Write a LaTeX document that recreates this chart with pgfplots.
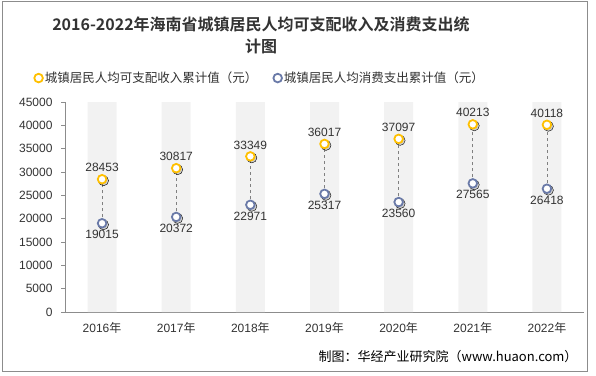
\documentclass[border=0pt]{standalone}
\usepackage{pgfplots}
\pgfplotsset{compat=1.18}
\usepackage{fontspec}
\setmainfont{Liberation Sans}
\newfontfamily\cjk{Noto Sans CJK SC}
\newfontfamily\cjkb{Noto Sans CJK SC Bold}
\definecolor{incc}{HTML}{FFC000}
\definecolor{conc}{HTML}{6A7AA8}
\definecolor{bandc}{HTML}{F2F2F2}
\definecolor{txt}{HTML}{333333}
\definecolor{axc}{HTML}{8C8C8C}
\begin{document}
\begin{tikzpicture}[x=1pt,y=1pt]
\path[use as bounding box] (0,0) rectangle (596,375);
\draw[color=axc, line width=1pt] (2,4) rectangle (587,373);
\node[text=txt, font=\cjkb\fontsize{16}{18}\selectfont] at (261,351) {2016-2022年海南省城镇居民人均可支配收入及消费支出统};
\node[text=txt, font=\cjkb\fontsize{16}{18}\selectfont] at (261,329) {计图};
\begin{axis}[
  at={(65pt,63pt)}, anchor=south west,
  scale only axis, width=519pt, height=210pt,
  xmin=-0.5, xmax=6.5, ymin=0, ymax=45000,
  axis x line*=bottom, axis y line*=left,
  axis line style={color=axc, line width=0.8pt},
  xtick={0,...,6},
  xticklabels={{2016\cjk 年},{2017\cjk 年},{2018\cjk 年},{2019\cjk 年},{2020\cjk 年},{2021\cjk 年},{2022\cjk 年}},
  x tick style={draw=none},
  extra x ticks={-0.5,0.5,1.5,2.5,3.5,4.5,5.5,6.5},
  extra x tick labels={},
  extra x tick style={major tick length=5pt, tick style={color=axc, line width=0.8pt}, tick align=outside},
  ytick={0,5000,...,45000},
  scaled y ticks=false,
  y tick style={color=axc, line width=0.8pt},
  tick align=outside, major tick length=4pt,
  tick label style={font=\fontsize{12}{14}\selectfont, text=txt},
  xticklabel style={yshift=-3pt},
  yticklabel style={xshift=-5pt},
  /pgf/number format/.cd, set thousands separator={}, assume math mode=true,
  /pgfplots/.cd,
  legend style={at={(0.376,1.114)}, anchor=center, draw=none, fill=none,
    font=\cjk\fontsize{12.5}{14}\selectfont, text=txt,
    /tikz/every even column/.append style={column sep=14pt}},
  legend columns=2,
  legend cell align=left,
  clip=false,
]
\addplot[ybar, bar width=29pt, fill=bandc, draw=none, forget plot]
  coordinates {(0,45000) (1,45000) (2,45000) (3,45000) (4,45000) (5,45000) (6,45000)};
% dashed connectors
\addplot[dashed, color=gray, line width=0.6pt, forget plot] coordinates {(0,19015) (0,28453)};
\addplot[dashed, color=gray, line width=0.6pt, forget plot] coordinates {(1,20372) (1,30817)};
\addplot[dashed, color=gray, line width=0.6pt, forget plot] coordinates {(2,22971) (2,33349)};
\addplot[dashed, color=gray, line width=0.6pt, forget plot] coordinates {(3,25317) (3,36017)};
\addplot[dashed, color=gray, line width=0.6pt, forget plot] coordinates {(4,23560) (4,37097)};
\addplot[dashed, color=gray, line width=0.6pt, forget plot] coordinates {(5,27565) (5,40213)};
\addplot[dashed, color=gray, line width=0.6pt, forget plot] coordinates {(6,26418) (6,40118)};
% shadows
\addplot[only marks, mark=*, mark size=5pt, forget plot,
  mark options={fill=black, draw=none, fill opacity=0.15, xshift=1.5pt, yshift=-1.5pt}]
  coordinates {(0,28453) (1,30817) (2,33349) (3,36017) (4,37097) (5,40213) (6,40118)
               (0,19015) (1,20372) (2,22971) (3,25317) (4,23560) (5,27565) (6,26418)};
\addplot[only marks, mark=*, mark size=4.3pt,
  mark options={fill=white, draw=incc, line width=1.8pt},
  nodes near coords, point meta=explicit symbolic,
  every node near coord/.append style={font=\fontsize{12}{14}\selectfont, text=txt, anchor=south, yshift=3pt}]
  coordinates {(0,28453)[28453] (1,30817)[30817] (2,33349)[33349] (3,36017)[36017] (4,37097)[37097] (5,40213)[40213] (6,40118)[40118]};
\addlegendentry{城镇居民人均可支配收入累计值（元）}
\addplot[only marks, mark=*, mark size=4.3pt,
  mark options={fill=white, draw=conc, line width=1.8pt},
  nodes near coords, point meta=explicit symbolic,
  every node near coord/.append style={font=\fontsize{12}{14}\selectfont, text=txt, anchor=north, yshift=-3pt}]
  coordinates {(0,19015)[19015] (1,20372)[20372] (2,22971)[22971] (3,25317)[25317] (4,23560)[23560] (5,27565)[27565] (6,26418)[26418]};
\addlegendentry{城镇居民人均消费支出累计值（元）}
\end{axis}
\node[anchor=east, text=black, font=\cjk\fontsize{13}{15}\selectfont] at (581,18) {制图：华经产业研究院（www.huaon.com）};
\end{tikzpicture}
\end{document}
